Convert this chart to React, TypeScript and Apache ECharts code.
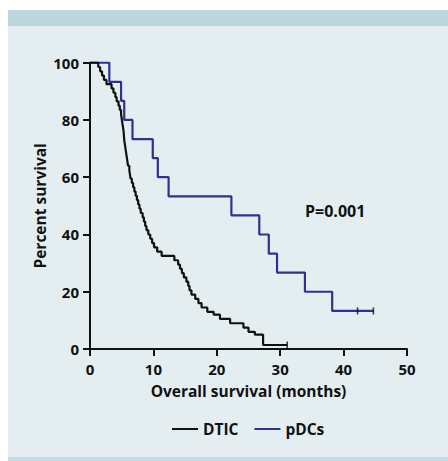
import React, { useEffect, useRef } from "react";
import * as echarts from "echarts";

const xTicks = [0, 10, 20, 30, 40, 50];
const yTicks = [0, 20, 40, 60, 80, 100];

// Kaplan-Meier steps: [time (months), percent survival after event]
const dticSteps: [number, number][] = [
  [0, 100], [1.3, 98.5], [1.6, 97], [1.9, 95.5], [2.2, 94], [2.6, 92.5], [3.4, 91],
  [3.7, 89.5], [4.0, 88], [4.2, 86.5], [4.5, 85], [4.7, 83.5], [4.9, 82], [5.0, 80.5],
  [5.1, 79], [5.2, 77.5], [5.3, 76], [5.35, 74.5], [5.4, 73], [5.5, 71.5], [5.6, 70],
  [5.7, 68.5], [5.8, 67], [5.9, 65.5], [6.0, 64], [6.2, 62.5], [6.3, 61], [6.4, 59.5],
  [6.6, 58], [6.8, 56.5], [7.0, 55], [7.2, 53.5], [7.4, 52], [7.6, 50.5], [7.8, 49],
  [8.0, 47.5], [8.3, 46], [8.5, 44.5], [8.7, 43], [8.9, 41.5], [9.2, 40], [9.5, 38.5],
  [9.8, 37], [10.1, 35.5], [10.6, 34], [11.3, 32.5], [13.3, 31], [13.9, 29.5],
  [14.2, 28], [14.5, 26.5], [14.8, 25], [15.2, 23.5], [15.5, 22], [15.7, 20.5],
  [16.0, 19], [16.6, 17.5], [17.1, 16], [17.6, 14.5], [18.5, 13], [19.5, 12],
  [20.5, 10.5], [22.1, 9], [24.2, 7.5], [25.0, 6], [26.0, 5], [27.3, 1.4], [31.1, 1.4],
];

const pdcSteps: [number, number][] = [
  [0, 100], [3.05, 93.3], [4.9, 86.7], [5.4, 80], [6.7, 73.3], [9.9, 66.7], [10.7, 60],
  [12.4, 53.3], [22.3, 46.7], [26.7, 40], [28.2, 33.3], [29.5, 26.7], [33.9, 20],
  [38.2, 13.3], [44.7, 13.3],
];

const dticCensored: [number, number][] = [[31.1, 1.4]];
const pdcCensored: [number, number][] = [[42.2, 13.3], [44.7, 13.3]];

const seriesNames = ["DTIC", "pDCs"];
const pValueText = "P=0.001";

const BLACK = "#111111";
const BLUE = "#2f3192";
const FONT = "Open Sans";

export default function App() {
  const ref = useRef<HTMLDivElement>(null);

  useEffect(() => {
    if (!ref.current) return;
    const chart = echarts.init(ref.current, undefined, { renderer: "svg" });
    const labelStyle = { fontFamily: FONT, fontWeight: 700, fontSize: 15, color: "#111" };
    chart.setOption({
      animation: false,
      grid: { left: 90, right: 41, top: 62.7, bottom: 112 },
      xAxis: {
        type: "value",
        min: 0,
        max: 50,
        interval: 10,
        name: "Overall survival (months)",
        nameLocation: "middle",
        nameGap: 34,
        nameMoveOverlap: false,
        nameTextStyle: { ...labelStyle, fontSize: 15.5 },
        axisLine: { show: true, lineStyle: { color: "#111", width: 2 } },
        axisTick: { show: true, length: 7, lineStyle: { color: "#111", width: 2 } },
        axisLabel: { ...labelStyle, margin: 12 },
        splitLine: { show: false },
      },
      yAxis: {
        type: "value",
        min: 0,
        max: 100,
        interval: 20,
        name: "Percent survival",
        nameLocation: "middle",
        nameGap: 42,
        nameMoveOverlap: false,
        nameTextStyle: { ...labelStyle, fontSize: 15.5 },
        axisLine: { show: true, lineStyle: { color: "#111", width: 2 } },
        axisTick: { show: true, length: 7, lineStyle: { color: "#111", width: 2 } },
        axisLabel: { ...labelStyle, margin: 11 },
        splitLine: { show: false },
      },
      legend: {
        data: seriesNames.map((n) => ({ name: n, icon: "rect" })),
        left: 172,
        top: 421,
        padding: 0,
        itemWidth: 26,
        itemHeight: 2,
        itemGap: 16,
        textStyle: { ...labelStyle, fontSize: 15.5 },
      },
      graphic: [
        {
          type: "text",
          left: 305,
          top: 203,
          style: { text: pValueText, font: `700 16px "${FONT}"`, fill: "#111" },
        },
      ],
      series: [
        {
          name: seriesNames[0],
          type: "line",
          step: "end",
          symbol: "none",
          data: dticSteps,
          lineStyle: { color: BLACK, width: 2.2 },
          itemStyle: { color: BLACK },
          z: 3,
        },
        {
          name: seriesNames[1],
          type: "line",
          step: "end",
          symbol: "none",
          data: pdcSteps,
          lineStyle: { color: BLUE, width: 2.2 },
          itemStyle: { color: BLUE },
          z: 2,
        },
        {
          name: "DTIC censored",
          type: "scatter",
          symbol: "rect",
          symbolSize: [1.6, 7],
          data: dticCensored,
          itemStyle: { color: BLACK },
          z: 4,
        },
        {
          name: "pDCs censored",
          type: "scatter",
          symbol: "rect",
          symbolSize: [1.6, 7],
          data: pdcCensored,
          itemStyle: { color: BLACK },
          z: 4,
        },
      ],
    });
    return () => chart.dispose();
  }, []);

  return (
    <div style={{ position: "fixed", left: 0, top: 0, width: 448, height: 461, background: "#ffffff" }}>
      <div style={{ position: "absolute", left: 8, top: 10, width: 440, height: 447, background: "#e4eef1" }} />
      <div style={{ position: "absolute", left: 8, top: 10, width: 440, height: 16, background: "#bcd6de" }} />
      <div style={{ position: "absolute", left: 8, top: 457, width: 440, height: 4, background: "#c3dde5" }} />
      <div ref={ref} style={{ position: "absolute", left: 0, top: 0, width: 448, height: 461 }} />
    </div>
  );
}
